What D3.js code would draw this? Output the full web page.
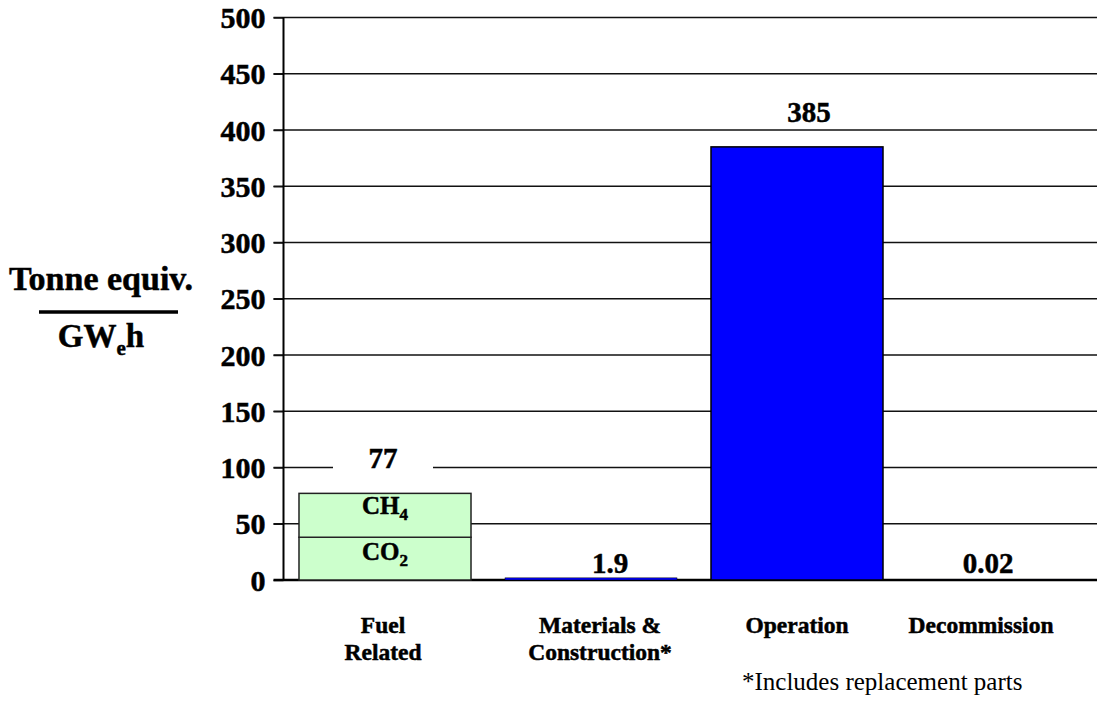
<!DOCTYPE html>
<html><head><meta charset="utf-8">
<script src="https://cdn.jsdelivr.net/npm/d3@7"></script>
<style>html,body{margin:0;padding:0;background:#fff;} svg{display:block;}</style>
</head><body>
<svg id="c" width="1097" height="705"></svg>
<script>
// ---- data ----
const categories = ["Fuel Related", "Materials & Construction*", "Operation", "Decommission"];
const categoryLines = [["Fuel", "Related"], ["Materials &", "Construction*"], ["Operation"], ["Decommission"]];
const totals = [77, 1.9, 385, 0.02];
const totalLabels = ["77", "1.9", "385", "0.02"];
const fuelGases = ["CO", "CH"];
const fuelGasSubs = ["2", "4"];
const fuelGasValues = [38, 39];
const yTicks = [0, 50, 100, 150, 200, 250, 300, 350, 400, 450, 500];
const footnote = "*Includes replacement parts";
// label placement tweaks (px offsets from band centre, as in the original)
const valueLabelDx = [-2, 19, 12, -15];
const catLabelDx = [-2, 9, 0, -22];

// ---- layout ----
const svg = d3.select("#c");
const axisX = 283.5, x1 = 1097, y0 = 580, yTop = 17.5;
const x = d3.scaleBand().domain(categories).range([282, 1106]).paddingInner(0.165).paddingOuter(0.0825);
const y = d3.scaleLinear().domain([0, 500]).range([y0, yTop]);
const FONT = "'Liberation Serif', Tinos, 'Times New Roman', Times, 'DejaVu Serif', 'Noto Serif', serif";
const boldText = sel => sel.style("font-family", FONT).attr("font-weight", "bold").attr("fill", "#000")
  .attr("stroke", "#000").attr("stroke-width", 0.5);

// gridlines
svg.append("g").selectAll("line").data(yTicks.filter(d => d > 0)).join("line")
  .attr("x1", axisX - 10).attr("x2", x1)
  .attr("y1", d => y(d)).attr("y2", d => y(d))
  .attr("stroke", "#111").attr("stroke-width", 1.5);

// y axis via d3.axisLeft
const yAxis = svg.append("g").attr("transform", `translate(${axisX},0)`)
  .call(d3.axisLeft(y).tickValues(yTicks).tickSize(10).tickPadding(8).tickFormat(d3.format("d")));
yAxis.select(".domain").remove();
yAxis.selectAll(".tick line").attr("stroke", "#111").attr("stroke-width", 1.5);
yAxis.selectAll(".tick text").call(boldText).attr("font-size", 30).attr("dy", "0.34em");

// axis lines
svg.append("line").attr("x1", axisX).attr("x2", axisX).attr("y1", yTop).attr("y2", y0 + 1).attr("stroke", "#000").attr("stroke-width", 2);
svg.append("line").attr("x1", axisX - 10).attr("x2", x1).attr("y1", y0).attr("y2", y0).attr("stroke", "#000").attr("stroke-width", 2.5);

// blue bars (non fuel)
const barData = categories.map((c, i) => ({c, v: totals[i], i})).filter(d => d.i > 0);
svg.append("g").selectAll("rect").data(barData).join("rect")
  .attr("x", d => x(d.c)).attr("width", x.bandwidth())
  .attr("y", d => y(d.v)).attr("height", d => y0 - y(d.v))
  .attr("fill", "#0000ff").attr("stroke", "#000").attr("stroke-width", d => (y0 - y(d.v)) > 5 ? 1.5 : 0.5);

// stacked fuel bar
let acc = 0;
const segs = fuelGasValues.map((v, i) => { const s = {lo: acc, hi: acc + v, g: fuelGases[i], sub: fuelGasSubs[i]}; acc += v; return s; });
const fg = svg.append("g");
fg.selectAll("rect").data(segs).join("rect")
  .attr("x", x(categories[0])).attr("width", x.bandwidth())
  .attr("y", d => y(d.hi)).attr("height", d => y(d.lo) - y(d.hi))
  .attr("fill", "#ccffcc").attr("stroke", "#222").attr("stroke-width", 1.5);
const segText = fg.selectAll("text").data(segs).join("text")
  .attr("x", x(categories[0]) + x.bandwidth() / 2)
  .attr("y", (d, i) => y(d.hi) + (i === 0 ? 23 : 21))
  .attr("text-anchor", "middle").call(boldText).attr("font-size", 25);
segText.append("tspan").text(d => d.g);
segText.append("tspan").attr("font-size", 17).attr("dy", 6).text(d => d.sub);

// value labels with white boxes
const vl = svg.append("g").selectAll("g").data(categories).join("g")
  .attr("transform", (c, i) => {
    const cx = x(c) + x.bandwidth() / 2 + valueLabelDx[i];
    const by = totals[i] > 20 ? y(totals[i]) - 25 : 573;
    return `translate(${cx},${by})`;
  });
vl.filter((c, i) => totals[i] > 20).append("rect")
  .attr("x", -50).attr("y", -27).attr("width", 100).attr("height", 34).attr("fill", "#fff");
vl.append("text").attr("text-anchor", "middle").call(boldText).attr("font-size", 29)
  .text((c, i) => totalLabels[i]);

// category labels
const cl = svg.append("g").selectAll("text").data(categories).join("text")
  .attr("text-anchor", "middle").call(boldText).attr("font-size", 23.5)
  .attr("transform", (c, i) => `translate(${x(c) + x.bandwidth() / 2 + catLabelDx[i]},633)`);
cl.selectAll("tspan").data((c, i) => categoryLines[i]).join("tspan")
  .attr("x", 0).attr("dy", (d, j) => j === 0 ? 0 : 27).text(d => d);

// footnote
svg.append("text").attr("x", 742).attr("y", 690).style("font-family", FONT).attr("font-size", 25).text(footnote);

// y axis title (fraction)
svg.append("text").attr("x", 101).attr("y", 290).attr("text-anchor", "middle").call(boldText).attr("font-size", 34).text("Tonne equiv.");
svg.append("line").attr("x1", 39).attr("x2", 178).attr("y1", 312).attr("y2", 312).attr("stroke", "#000").attr("stroke-width", 3.5);
const gw = svg.append("text").attr("x", 101).attr("y", 347).attr("text-anchor", "middle").call(boldText).attr("font-size", 33);
gw.append("tspan").text("GW");
gw.append("tspan").attr("font-size", 21).attr("dy", 8).text("e");
gw.append("tspan").attr("dy", -8).text("h");
</script>
</body></html>
